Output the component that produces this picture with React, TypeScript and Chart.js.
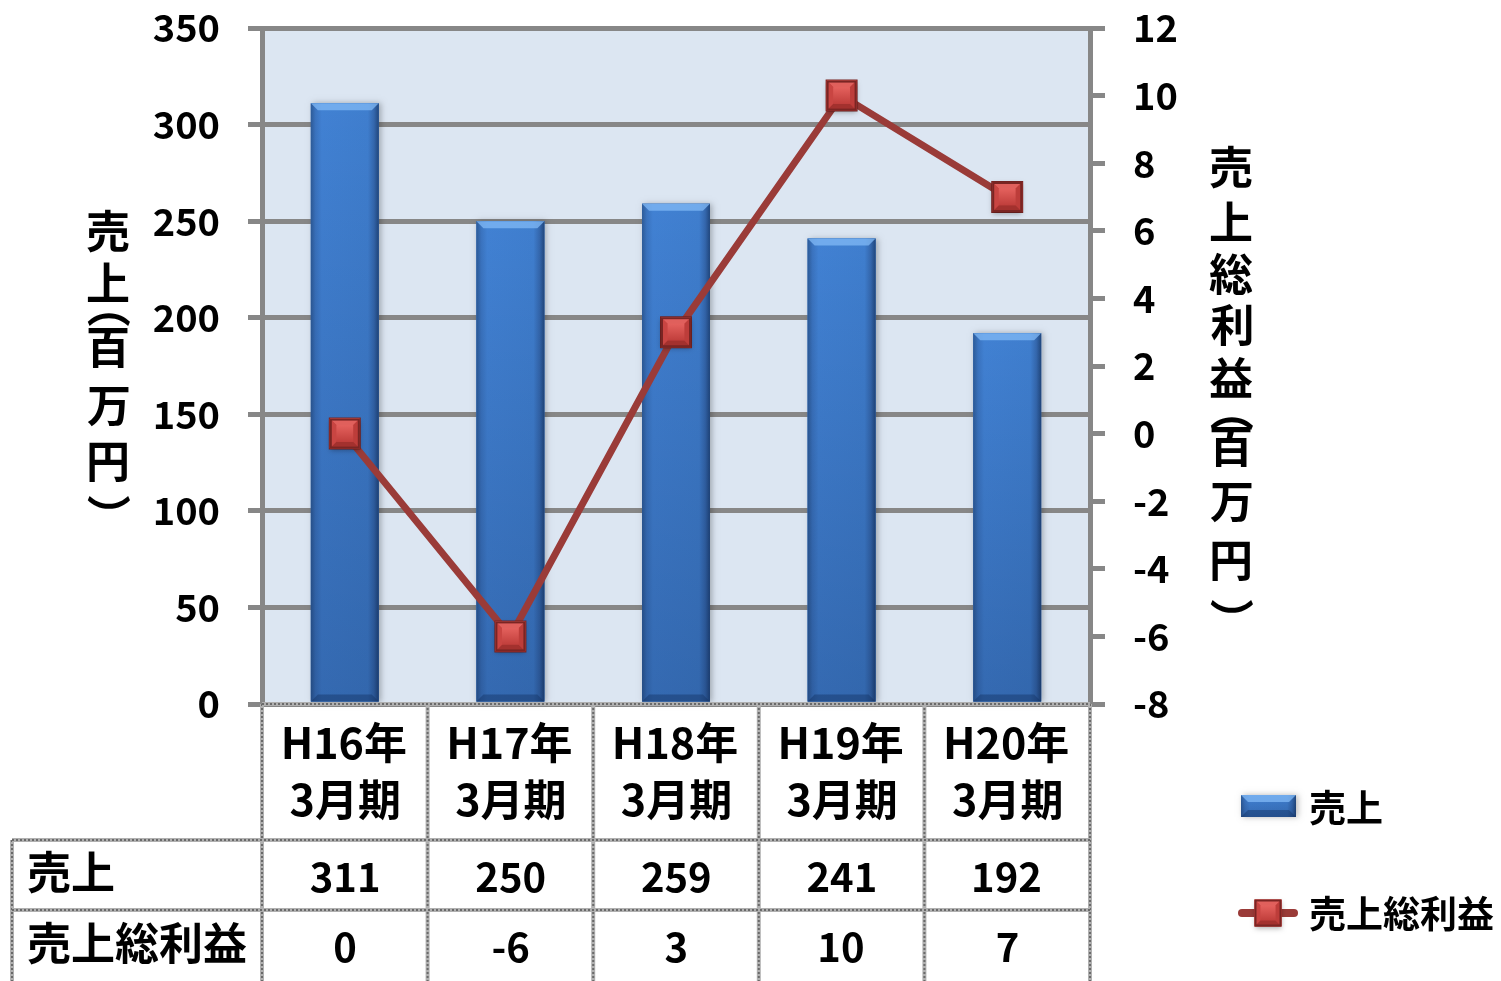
import React, { useEffect, useRef } from 'react';
import { Chart, registerables } from 'chart.js';

Chart.register(...registerables);

// ---------- data ----------
const periodYears = ['H16年', 'H17年', 'H18年', 'H19年', 'H20年'];
const periodMonths = ['3月期', '3月期', '3月期', '3月期', '3月期'];
const salesValues = [311, 250, 259, 241, 192];
const grossProfitValues = [0, -6, 3, 10, 7];
const salesTicks = [0, 50, 100, 150, 200, 250, 300, 350];
const profitTicks = [-8, -6, -4, -2, 0, 2, 4, 6, 8, 10, 12];
const seriesNames = ['売上', '売上総利益'];
const leftTitleChars = ['売', '上', '（', '百', '万', '円', '）'];
const rightTitleChars = ['売', '上', '総', '利', '益', '（', '百', '万', '円', '）'];

const FONT = "'Noto Sans CJK JP', 'Noto Sans', sans-serif";
const GRID = '#878787';

type Align = 'center' | 'left';

function drawInk(
  ctx: CanvasRenderingContext2D,
  text: string,
  x: number,
  cy: number,
  align: Align = 'center',
  rotate = false
) {
  ctx.save();
  ctx.translate(x, cy);
  if (rotate) ctx.rotate(Math.PI / 2);
  ctx.textAlign = 'left';
  ctx.textBaseline = 'alphabetic';
  const m = ctx.measureText(text);
  const dy = -(m.actualBoundingBoxDescent - m.actualBoundingBoxAscent) / 2;
  const dx = align === 'center' ? -(m.actualBoundingBoxRight - m.actualBoundingBoxLeft) / 2 : m.actualBoundingBoxLeft;
  ctx.fillText(text, dx, dy);
  ctx.restore();
}

function paintBar(ctx: CanvasRenderingContext2D, l: number, t: number, r: number, b: number) {
  const w = r - l;
  const h = b - t;
  ctx.save();
  ctx.shadowColor = 'rgba(0,0,0,0.28)';
  ctx.shadowBlur = 6;
  ctx.shadowOffsetX = 2;
  ctx.fillStyle = '#3c76c4';
  ctx.fillRect(l, t, w, h);
  ctx.restore();

  const g = ctx.createLinearGradient(l, 0, r, 0);
  g.addColorStop(0, '#2d5b98');
  g.addColorStop(0.07, '#3a73bf');
  g.addColorStop(0.16, '#4181d3');
  g.addColorStop(0.84, '#3f7ece');
  g.addColorStop(0.93, '#3467ad');
  g.addColorStop(1, '#21477d');
  ctx.fillStyle = g;
  ctx.fillRect(l, t, w, h);

  const v = ctx.createLinearGradient(0, t, 0, b);
  v.addColorStop(0, 'rgba(0,10,40,0)');
  v.addColorStop(1, 'rgba(0,10,40,0.2)');
  ctx.fillStyle = v;
  ctx.fillRect(l, t, w, h);

  const bev = Math.min(7, h / 2);
  ctx.beginPath();
  ctx.moveTo(l, t);
  ctx.lineTo(r, t);
  ctx.lineTo(r - bev, t + bev);
  ctx.lineTo(l + bev, t + bev);
  ctx.closePath();
  ctx.fillStyle = 'rgba(130,185,245,0.75)';
  ctx.fill();

  ctx.beginPath();
  ctx.moveTo(l, b);
  ctx.lineTo(r, b);
  ctx.lineTo(r - bev, b - bev);
  ctx.lineTo(l + bev, b - bev);
  ctx.closePath();
  ctx.fillStyle = 'rgba(20,50,100,0.45)';
  ctx.fill();
}

function paintMarker(ctx: CanvasRenderingContext2D, x: number, y: number, s: number) {
  const h = s / 2;
  const l = x - h, r = x + h, t = y - h, b = y + h;
  ctx.save();
  ctx.shadowColor = 'rgba(0,0,0,0.3)';
  ctx.shadowBlur = 5;
  ctx.shadowOffsetY = 2;
  ctx.fillStyle = '#c4413e';
  ctx.fillRect(l, t, s, s);
  ctx.restore();
  const tri = (pts: number[][], color: string) => {
    ctx.beginPath();
    ctx.moveTo(pts[0][0], pts[0][1]);
    for (let i = 1; i < pts.length; i++) ctx.lineTo(pts[i][0], pts[i][1]);
    ctx.closePath();
    ctx.fillStyle = color;
    ctx.fill();
  };
  tri([[l, t], [r, t], [x, y]], '#e0605c');
  tri([[l, t], [l, b], [x, y]], '#c94542');
  tri([[r, t], [r, b], [x, y]], '#bd3d3a');
  tri([[l, b], [r, b], [x, y]], '#a3312e');
  const inset = s * 0.22;
  const ig = ctx.createLinearGradient(0, t + inset, 0, b - inset);
  ig.addColorStop(0, '#e4615d');
  ig.addColorStop(1, '#c03e3b');
  ctx.fillStyle = ig;
  ctx.fillRect(l + inset, t + inset, s - 2 * inset, s - 2 * inset);
  ctx.strokeStyle = '#7a2523';
  ctx.lineWidth = 2;
  ctx.strokeRect(l + 1, t + 1, s - 2, s - 2);
}

function tableLine(ctx: CanvasRenderingContext2D, x1: number, y1: number, x2: number, y2: number) {
  ctx.save();
  ctx.lineCap = 'butt';
  ctx.strokeStyle = '#b0b0b0';
  ctx.lineWidth = 4;
  ctx.beginPath();
  ctx.moveTo(x1, y1);
  ctx.lineTo(x2, y2);
  ctx.stroke();
  ctx.strokeStyle = '#6a6a6a';
  ctx.lineWidth = 2;
  ctx.setLineDash([2, 2]);
  ctx.beginPath();
  ctx.moveTo(x1, y1);
  ctx.lineTo(x2, y2);
  ctx.stroke();
  ctx.restore();
}

const decorPlugin = {
  id: 'decor',
  beforeDraw(chart: any) {
    const { ctx, chartArea: a, width, height } = chart;
    ctx.save();
    ctx.fillStyle = '#ffffff';
    ctx.fillRect(0, 0, width, height);
    ctx.fillStyle = '#dce6f2';
    ctx.fillRect(a.left, a.top, a.right - a.left, a.bottom - a.top);
    ctx.restore();
  },
  afterDatasetDraw(chart: any, args: any) {
    const ctx = chart.ctx;
    const meta = chart.getDatasetMeta(args.index);
    if (args.index === 0) {
      meta.data.forEach((el: any) => {
        const p = el.getProps(['x', 'y', 'base', 'width'], true);
        paintBar(ctx, p.x - p.width / 2, p.y, p.x + p.width / 2, p.base);
      });
    } else if (args.index === 1) {
      meta.data.forEach((el: any) => {
        const p = el.getProps(['x', 'y'], true);
        paintMarker(ctx, p.x, p.y, 30);
      });
    }
  },
  afterDraw(chart: any) {
    const ctx: CanvasRenderingContext2D = chart.ctx;
    const xs = chart.scales.x;
    const a = chart.chartArea;
    const n = periodYears.length;
    const colW = (xs.right - xs.left) / n;
    const top = a.bottom;
    const headerB = top + 136;
    const row1B = headerB + 70;
    const bottom = chart.height;
    const tableLeft = 12;

    // table grid
    for (let i = 0; i <= n; i++) {
      const x = xs.left + i * colW;
      tableLine(ctx, x, top, x, bottom);
    }
    tableLine(ctx, tableLeft, headerB, tableLeft, bottom);
    tableLine(ctx, xs.left, top, xs.right, top);
    tableLine(ctx, tableLeft, headerB, xs.right, headerB);
    tableLine(ctx, tableLeft, row1B, xs.right, row1B);

    ctx.save();
    ctx.fillStyle = '#000';
    // header
    ctx.font = `bold 43px ${FONT}`;
    for (let i = 0; i < n; i++) {
      const cx = xs.getPixelForValue(i);
      drawInk(ctx, periodYears[i], cx, top + 38);
      drawInk(ctx, periodMonths[i], cx, top + 96);
    }
    // values
    ctx.font = `bold 40px ${FONT}`;
    for (let i = 0; i < n; i++) {
      const cx = xs.getPixelForValue(i);
      drawInk(ctx, String(salesValues[i]), cx, headerB + 37);
      drawInk(ctx, String(grossProfitValues[i]), cx, row1B + 37);
    }
    // row labels
    ctx.font = `bold 44px ${FONT}`;
    drawInk(ctx, seriesNames[0], 28, headerB + 32, 'left');
    drawInk(ctx, seriesNames[1], 28, row1B + 33, 'left');

    // axis titles (stacked vertical)
    ctx.font = `bold 44px ${FONT}`;
    const leftY = [231, 282, 320, 348, 407, 462, 502];
    leftTitleChars.forEach((c, i) => {
      const paren = c === '（' || c === '）';
      drawInk(ctx, c, 108, leftY[i], 'center', paren);
    });
    const rightY = [167, 221, 273, 325, 377, 424, 447, 503, 561, 606];
    rightTitleChars.forEach((c, i) => {
      const paren = c === '（' || c === '）';
      drawInk(ctx, c, 1231, rightY[i], 'center', paren);
    });

    // legend
    paintBar(ctx, 1241, 795, 1296, 817);
    ctx.save();
    ctx.strokeStyle = '#9a3b38';
    ctx.lineWidth = 8;
    ctx.lineCap = 'round';
    ctx.beginPath();
    ctx.moveTo(1242, 913);
    ctx.lineTo(1294, 913);
    ctx.stroke();
    ctx.restore();
    paintMarker(ctx, 1268, 913, 27);
    ctx.fillStyle = '#000';
    ctx.font = `bold 37px ${FONT}`;
    drawInk(ctx, seriesNames[0], 1310, 807, 'left');
    drawInk(ctx, seriesNames[1], 1310, 913, 'left');
    ctx.restore();
  },
};

export default function App() {
  const ref = useRef<HTMLCanvasElement | null>(null);

  useEffect(() => {
    if (!ref.current) return;
    const tickFont = { family: FONT, size: 38, weight: 'bold' as const };
    const chart = new Chart(ref.current, {
      data: {
        labels: periodYears.map((y, i) => [y, periodMonths[i]]),
        datasets: [
          {
            type: 'bar',
            label: seriesNames[0],
            data: salesValues,
            yAxisID: 'y',
            backgroundColor: '#3c76c4',
            barPercentage: 0.41,
            categoryPercentage: 1,
            order: 2,
          },
          {
            type: 'line',
            label: seriesNames[1],
            data: grossProfitValues,
            yAxisID: 'y1',
            borderColor: '#9a3b38',
            borderWidth: 7,
            pointStyle: 'rect',
            pointRadius: 21.2,
            pointBackgroundColor: '#c4413e',
            pointBorderColor: '#7a2523',
            pointBorderWidth: 2,
            tension: 0,
            order: 1,
            clip: false,
          } as any,
        ],
      },
      options: {
        responsive: false,
        animation: false,
        events: [],
        layout: { padding: { top: 28, left: 0, right: 0, bottom: 0 } },
        plugins: { legend: { display: false }, tooltip: { enabled: false } },
        scales: {
          x: {
            type: 'category',
            grid: { display: false },
            border: { display: false },
            ticks: { display: false },
            afterFit: (s: any) => {
              s.height = 277;
            },
          },
          y: {
            position: 'left',
            min: 0,
            max: 350,
            afterBuildTicks: (s: any) => {
              s.ticks = salesTicks.map((v) => ({ value: v }));
            },
            ticks: { color: '#000', font: tickFont, padding: 28 },
            grid: { color: GRID, lineWidth: 5, tickLength: 14 },
            border: { color: GRID, width: 5 },
            afterFit: (s: any) => {
              s.width = 262;
              s.paddingTop = 0;
              s.paddingBottom = 0;
            },
          },
          y1: {
            position: 'right',
            min: -8,
            max: 12,
            afterBuildTicks: (s: any) => {
              s.ticks = profitTicks.map((v) => ({ value: v }));
            },
            ticks: { color: '#000', font: tickFont, padding: 28 },
            grid: { drawOnChartArea: false, color: GRID, lineWidth: 5, tickLength: 15 },
            border: { color: GRID, width: 5 },
            afterFit: (s: any) => {
              s.width = 411;
              s.paddingTop = 0;
              s.paddingBottom = 0;
            },
          },
        },
      } as any,
      plugins: [decorPlugin],
    } as any);

    let alive = true;
    if ((document as any).fonts && (document as any).fonts.load) {
      (document as any).fonts
        .load(`bold 40px ${FONT}`, '売上総利益百万円年月期0123')
        .then(() => {
          if (alive) chart.update();
        })
        .catch(() => {});
    }
    return () => {
      alive = false;
      chart.destroy();
    };
  }, []);

  return (
    <div style={{ position: 'absolute', left: 0, top: 0, width: 1501, height: 981, background: '#fff' }}>
      <canvas ref={ref} width={1501} height={981} style={{ display: 'block', width: 1501, height: 981 }} />
    </div>
  );
}
